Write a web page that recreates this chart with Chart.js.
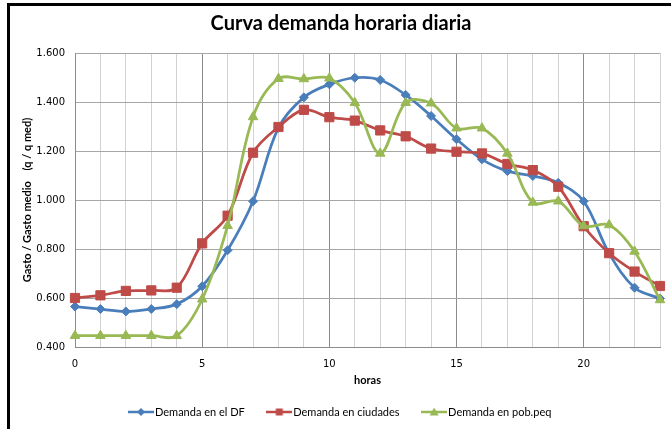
<!DOCTYPE html>
<html><head><meta charset="utf-8">
<script src="https://cdn.jsdelivr.net/npm/chart.js@4.4.0/dist/chart.umd.min.js"></script>
<style>html,body{margin:0;padding:0;background:#fff}#wrap{width:671px;height:429px;position:relative}</style>
</head><body><div id="wrap"><canvas id="c" width="671" height="429"></canvas></div>
<script>
const hours = [0,1,2,3,4,5,6,7,8,9,10,11,12,13,14,15,16,17,18,19,20,21,22,23];
const demandaDF = [0.565,0.555,0.545,0.555,0.575,0.648,0.795,0.995,1.295,1.419,1.472,1.499,1.490,1.429,1.343,1.248,1.166,1.118,1.098,1.070,0.995,0.782,0.642,0.598];
const demandaCiudades = [0.600,0.611,0.629,0.631,0.642,0.823,0.936,1.193,1.298,1.368,1.338,1.324,1.284,1.260,1.210,1.197,1.190,1.147,1.122,1.054,0.893,0.783,0.708,0.649];
const demandaPobPeq = [0.446,0.446,0.446,0.446,0.446,0.595,0.895,1.339,1.495,1.494,1.497,1.397,1.190,1.397,1.395,1.293,1.293,1.190,0.990,0.995,0.894,0.898,0.790,0.592];
const yTicks = [0.4,0.6,0.8,1.0,1.2,1.4,1.6];
const seriesNames = ["Demanda en el DF","Demanda en ciudades","Demanda en pob.peq"];
const titleText = "Curva demanda horaria diaria";
const xTitle = "horas";
const yTitle = "Gasto / Gasto medio    (q / q med)";

const BLUE = '#4A7EBB', RED = '#BE4B48', GREEN = '#98B954';

function icon(color, shape){
  const cv = document.createElement('canvas'); cv.width = 26; cv.height = 12;
  const g = cv.getContext('2d');
  g.strokeStyle = color; g.lineWidth = 2.5;
  g.beginPath(); g.moveTo(0,6); g.lineTo(26,6); g.stroke();
  g.fillStyle = color; g.beginPath();
  if (shape === 'diamond') { g.moveTo(13,2); g.lineTo(17,6); g.lineTo(13,10); g.lineTo(9,6); }
  else if (shape === 'square') { g.rect(9.5,2.5,7,7); }
  else { g.moveTo(13,1.5); g.lineTo(17.5,9.5); g.lineTo(8.5,9.5); }
  g.closePath(); g.fill();
  return cv;
}
const legendIcons = [icon(BLUE,'diamond'), icon(RED,'square'), icon(GREEN,'triangle')];

const framePlugin = {
  id: 'frame',
  beforeDraw(chart){
    const c = chart.ctx; c.save(); c.fillStyle = '#fff'; c.fillRect(0,0,chart.width,chart.height); c.restore();
  },
  afterDraw(chart){
    const c = chart.ctx; c.save(); c.fillStyle = '#000';
    c.fillRect(7,3,chart.width-7,3);
    c.fillRect(7,3,3,chart.height-3);
    c.restore();
  },
  afterLayout(chart){
    if (chart.legend) chart.legend.left = 106.5;
    if (chart.titleBlock) chart.titleBlock.left = 18;
  }
};

new Chart(document.getElementById('c'), {
  type: 'line',
  data: {
    labels: hours,
    datasets: [
      { label: seriesNames[0], data: demandaDF, borderColor: BLUE, backgroundColor: BLUE, borderWidth: 2.75,
        pointStyle: 'rectRot', pointRadius: 4.5, pointBorderWidth: 1, tension: 0.35, fill: false, order: 3 },
      { label: seriesNames[1], data: demandaCiudades, borderColor: RED, backgroundColor: RED, borderWidth: 2.75,
        pointStyle: 'rect', pointRadius: 6.5, pointBorderWidth: 1, tension: 0.35, fill: false, order: 2 },
      { label: seriesNames[2], data: demandaPobPeq, borderColor: GREEN, backgroundColor: GREEN, borderWidth: 2.75,
        pointStyle: 'triangle', pointRadius: 5.5, pointBorderWidth: 1, tension: 0.35, fill: false, order: 1 }
    ]
  },
  options: {
    responsive: false, animation: false, devicePixelRatio: 1,
    layout: { padding: { left: 10, right: 7, top: 0, bottom: 1.5 } },
    plugins: {
      title: { display: true, text: titleText, color: '#000',
        font: { family: 'Lato', size: 20, weight: 'bold' }, padding: { top: 12, bottom: 17 } },
      legend: { display: true, position: 'bottom', align: 'start',
        labels: { usePointStyle: true, pointStyleWidth: 17, padding: 26, color: '#000',
          font: { family: 'Lato', size: 11 },
          sort: (a, b) => a.datasetIndex - b.datasetIndex,
          generateLabels(chart){
            const items = Chart.defaults.plugins.legend.labels.generateLabels(chart);
            items.forEach(it => { it.pointStyle = legendIcons[it.datasetIndex]; });
            return items;
          } } },
      tooltip: { enabled: false }
    },
    scales: {
      x: { type: 'category', offset: false,
        grid: { color: ctx => (hours[ctx.index] % 5 === 0 ? '#8c8c8c' : '#d2d2d2'), lineWidth: 1, drawTicks: false, offset: false },
        border: { display: true, color: '#8c8c8c' },
        ticks: { autoSkip: false, maxRotation: 0, padding: 11, color: '#000',
          font: { family: 'DejaVu Sans', size: 10 },
          callback: (v, i) => (hours[i] % 5 === 0 ? String(hours[i]) : '') },
        title: { display: true, text: xTitle, color: '#000', font: { family: 'Lato', size: 11, weight: 'bold' },
          padding: { top: 0, bottom: -7 } },
        afterFit: s => { s.height = 33.5; }
      },
      y: { min: 0.4, max: 1.6,
        afterBuildTicks: s => { s.ticks = yTicks.map(v => ({ value: v })); },
        grid: { color: '#a6a6a6', lineWidth: 1, drawTicks: false },
        border: { display: true, color: '#8c8c8c' },
        ticks: { padding: 10, color: '#000', font: { family: 'DejaVu Sans', size: 10 },
          callback: v => Number(v).toFixed(3) },
        title: { display: true, text: yTitle, color: '#000', font: { family: 'Lato', size: 11, weight: 'bold' },
          padding: { top: 11, bottom: 0 } },
        afterFit: s => { s.width = 65; }
      }
    }
  },
  plugins: [framePlugin]
});
</script></body></html>
